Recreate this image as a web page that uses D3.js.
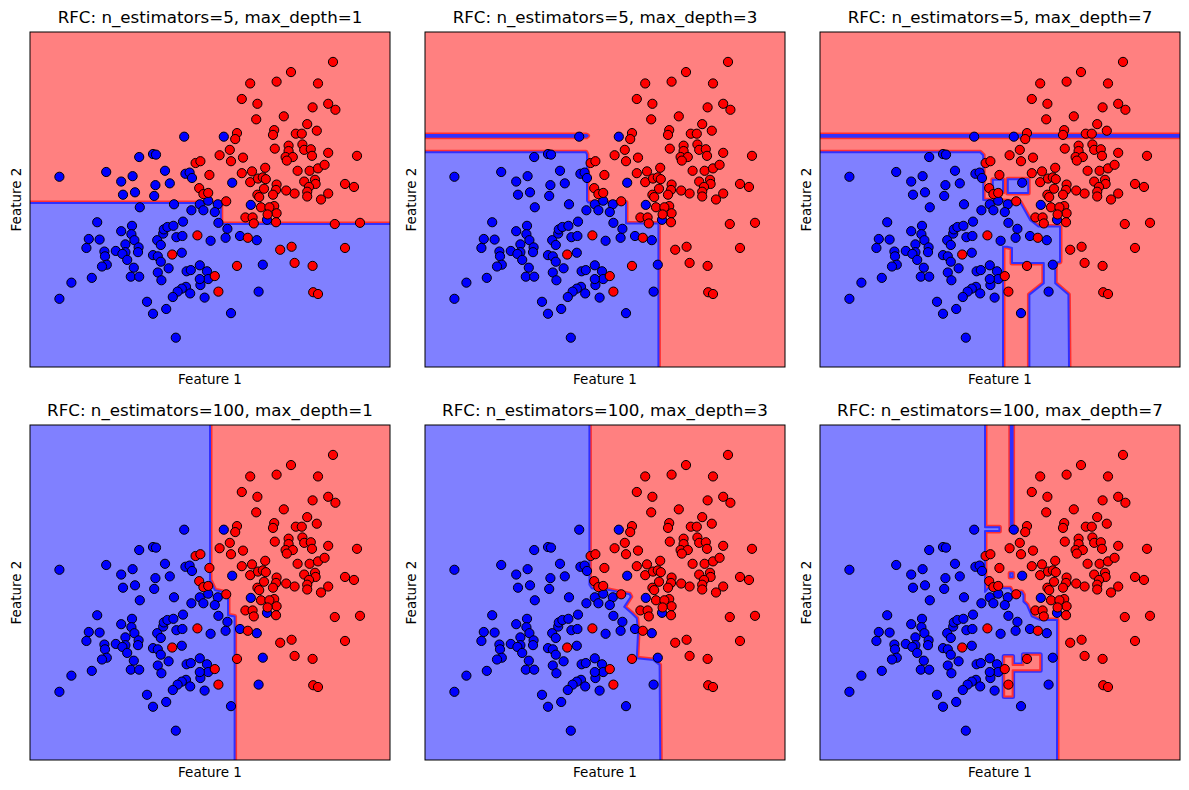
<!DOCTYPE html>
<html>
<head>
<meta charset="utf-8">
<script src="https://cdn.jsdelivr.net/npm/d3@7"></script>
<style>
  html, body { margin: 0; padding: 0; background: #fff; }
  svg text { font-family: "DejaVu Sans", sans-serif; fill: #000; }
</style>
</head>
<body>
<div id="chart"></div>
<script>
// titles of the six panels (row by row)
const titles = [
  "RFC: n_estimators=5, max_depth=1",
  "RFC: n_estimators=5, max_depth=3",
  "RFC: n_estimators=5, max_depth=7",
  "RFC: n_estimators=100, max_depth=1",
  "RFC: n_estimators=100, max_depth=3",
  "RFC: n_estimators=100, max_depth=7"
];

// class 0 samples (Feature 1, Feature 2)
const bluePoints = [
  [-0.43,1.05],[-1.18,0.71],[-0.95,0.76],[-0.90,0.75],[-2.51,0.38],[-1.73,0.46],[-1.48,0.30],[-1.29,0.39],
  [-0.75,0.48],[-0.41,0.43],[-0.34,0.45],[-0.30,0.36],[-0.91,0.24],[-0.67,0.27],[-1.45,0.08],[-1.25,0.12],
  [-0.93,0.06],[-1.17,-0.13],[-0.60,-0.08],[-0.31,-0.18],[-0.17,-0.08],[-0.03,-0.02],[-0.11,-0.18],[0.13,-0.08],
  [0.08,-0.21],[0.14,-0.39],[-0.45,-0.37],[0.23,1.05],[0.37,0.28],[0.68,-0.09],[0.95,-0.34],[0.29,-0.49],
  [0.26,-0.64],[0.01,-0.69],[0.50,-0.61],[0.78,-0.68],[0.88,-1.09],[-0.05,-1.20],[-0.03,-1.33],[-0.16,-1.43],
  [-0.17,-1.33],[-0.17,-1.10],[-0.09,-1.64],[0.81,-1.54],[0.35,-1.90],
  [-1.88,-0.38],[-1.30,-0.44],[-1.48,-0.53],[-1.31,-0.58],[-1.26,-0.68],[-2.02,-0.66],[-1.84,-0.67],[-2.06,-0.81],
  [-1.41,-0.75],[-1.19,-0.80],[-1.20,-0.88],[-1.57,-0.86],[-1.41,-0.88],[-1.46,-0.91],[-1.76,-0.87],[-1.75,-0.95],
  [-1.72,-1.09],[-1.80,-1.12],[-1.38,-1.01],[-0.88,-0.68],[-0.82,-0.76],[-0.78,-0.57],[-0.77,-0.50],[-0.71,-0.46],
  [-0.61,-0.44],[-0.56,-0.63],[-0.46,-0.61],[-0.95,-0.93],[-0.87,-0.95],[-0.82,-1.04],[-0.47,-0.89],[-0.69,-1.15],
  [-0.87,-1.22],[-0.81,-1.35],[-1.27,-1.14],[-1.32,-1.29],[-1.18,-1.29],[-1.97,-1.31],[-2.31,-1.39],[-2.51,-1.66],
  [-0.39,-1.20],[-0.32,-1.18],[-0.40,-1.46],[-0.47,-1.49],[-0.54,-1.54],[-0.33,-1.57],[-0.62,-1.63],[-1.05,-1.71],
  [-0.73,-1.83],[-0.95,-1.91],[-0.57,-2.31]
];

// class 1 samples
const redPoints = [
  [-0.24,0.61],[-0.16,0.64],[-0.01,0.41],[-0.18,0.19],[-0.11,0.09],[-0.03,0.11],[0.27,-0.03],[2.05,2.30],
  [1.35,2.13],[0.67,1.94],[1.11,1.97],[1.80,1.94],[0.53,1.68],[0.79,1.60],[1.71,1.54],[1.97,1.60],
  [2.09,1.50],[1.23,1.39],[0.77,1.34],[1.62,1.26],[1.78,1.15],[0.45,1.11],[0.42,1.01],[1.07,1.16],
  [1.05,1.08],[1.43,1.10],[1.53,1.10],[0.33,0.83],[0.16,0.74],[0.35,0.64],[0.55,0.70],[1.08,0.85],
  [1.31,0.90],[1.31,0.81],[1.26,0.71],[1.38,0.71],[1.28,0.65],[1.54,0.92],[1.57,0.83],[1.68,0.84],
  [1.70,0.73],[1.97,0.78],[2.45,0.73],[0.53,0.44],[0.70,0.47],[0.92,0.53],[1.46,0.48],[1.66,0.48],
  [1.80,0.52],[1.91,0.58],[0.67,0.29],[0.80,0.35],[0.88,0.37],[0.93,0.34],[1.11,0.25],[1.57,0.30],
  [1.75,0.33],[1.76,0.26],[1.65,0.21],[0.90,0.18],[1.10,0.16],[1.27,0.15],[1.41,0.10],[1.62,0.13],
  [1.62,0.05],[2.25,0.26],[2.40,0.21],[1.97,0.10],[1.85,0.00],[0.79,0.08],[0.82,0.04],[1.05,0.08],
  [1.07,-0.11],[0.85,-0.13],[0.99,-0.13],[1.11,-0.23],[0.96,-0.25],[1.10,-0.38],[0.59,-0.30],[0.71,-0.30],
  [0.73,-0.40],[2.08,-0.41],[2.50,-0.39],[0.63,-0.64],[1.17,-0.84],[1.36,-0.79],[2.25,-0.81],[0.45,-1.11],
  [1.41,-1.06],[1.71,-1.11],[0.08,-1.28],[0.14,-1.54],[1.72,-1.55],[1.80,-1.58],[-0.21,-0.60],[-0.63,-0.92]
];

// decision regions: class + outline (red is the background)
const regions_5_1 = [
  { cls: "b", pts: [[-4,-0.06],[0.18,-0.06],[0.18,-0.41],[4,-0.41],[4,-4],[-4,-4]] }
];
const regions_5_3 = [
  { cls: "b", pts: [[-4,1.08],[-0.31,1.08],[-0.29,1.065],[-0.31,1.05],[-4,1.05]] },
  { cls: "b", pts: [[-4,0.79],[-0.32,0.79],[-0.30,0.75],[-0.30,-0.02],[-0.28,-0.05],[0.35,-0.05],
                    [0.35,-0.40],[0.89,-0.40],[0.89,-4],[-4,-4]] }
];
const regions_5_7 = [
  { cls: "b", pts: [[-4,1.08],[4,1.08],[4,1.05],[-4,1.05]] },
  { cls: "b", pts: [[-4,0.79],[-0.33,0.79],[-0.28,0.74],[-0.28,-0.01],[0.33,-0.04],[0.36,-0.09],
                    [0.50,-0.34],[0.64,-0.45],[1.00,-0.45],[1.00,-1.04],[0.92,-1.06],[0.92,-1.40],
                    [1.14,-1.59],[1.16,-4],[0.49,-4],[0.49,-1.59],[0.73,-1.40],[0.73,-1.06],
                    [0.20,-1.06],[0.20,-0.81],[0.12,-0.79],[0.05,-0.79],[0.05,-4],[-4,-4]] },
  { cls: "b", pts: [[-0.12,0.33],[0.05,0.33],[0.05,0.13],[-0.12,0.13]] },
  { cls: "b", pts: [[0.13,0.34],[0.47,0.34],[0.47,0.11],[0.13,0.11]] }
];
const regions_100_1 = [
  { cls: "b", pts: [[-4,4],[0,4],[0,0.21],[0.08,0.04],[0.22,0.01],[0.30,-0.03],[0.30,-0.38],
                    [0.41,-0.40],[0.41,-4],[-4,-4]] }
];
const regions_100_3 = [
  { cls: "b", pts: [[-4,4],[-0.26,4],[-0.26,0.13],[-0.22,0.07],[0.08,0.04],[0.41,-0.03],[0.43,-0.07],
                    [0.32,-0.24],[0.45,-0.35],[0.53,-0.43],[0.55,-0.68],[0.53,-1.10],[0.81,-1.13],
                    [0.91,-1.21],[0.93,-4],[-4,-4]] }
];
const regions_100_7 = [
  { cls: "b", pts: [[-4,4],[-0.25,4],[-0.25,1.09],[-0.01,1.09],[-0.01,1.03],[-0.25,1.03],[-0.25,0.01],
                    [-0.20,0.07],[0.17,0.07],[0.20,0.01],[0.36,0.01],[0.39,-0.04],[0.39,-0.15],
                    [0.45,-0.21],[0.53,-0.40],[0.67,-0.46],[0.95,-0.46],[0.95,-4],[-4,-4]] },
  { cls: "b", pts: [[0.18,4],[0.21,4],[0.21,1.04],[0.18,1.04]] },
  { cls: "b", pts: [[0.17,0.32],[0.21,0.32],[0.21,0.26],[0.17,0.26]] },
  { cls: "r", pts: [[0.07,-1.07],[0.21,-1.07],[0.21,-1.21],[0.39,-1.21],[0.39,-1.04],[0.67,-1.04],
                    [0.67,-1.30],[0.21,-1.30],[0.21,-1.74],[0.07,-1.74]] }
];
const regions = [regions_5_1, regions_5_3, regions_5_7, regions_100_1, regions_100_3, regions_100_7];

// layout
const W = 1189, H = 790;
const pw = 360, ph = 335;
const lefts = [30, 425, 820];
const tops = [32, 425];

const fills = { b: "#8080ff", r: "#ff8080" };
const edges = { b: "#3030ff", r: "#ff3030" };
const other = { b: "r", r: "b" };

const svg = d3.select("#chart").append("svg")
  .attr("width", W)
  .attr("height", H);

const x = d3.scaleLinear().domain([-3, 3]).range([0, pw]);
const y = d3.scaleLinear().domain([-2.8, 2.8]).range([ph, 0]);
const line = d3.line().x(d => x(d[0])).y(d => y(d[1]));

titles.forEach((title, i) => {
  const col = i % 3, row = Math.floor(i / 3);
  const g = svg.append("g")
    .attr("transform", `translate(${lefts[col]},${tops[row]})`);

  g.append("clipPath").attr("id", "clip" + i)
    .append("rect").attr("width", pw).attr("height", ph);

  const plot = g.append("g").attr("clip-path", `url(#clip${i})`);

  // background = class 1 region
  plot.append("rect")
    .attr("width", pw)
    .attr("height", ph)
    .attr("fill", fills.r);

  // regions: outer edge in the neighbour colour, then fill + own edge
  regions[i].forEach(r => {
    const d = line(r.pts) + "Z";
    plot.append("path")
      .attr("d", d)
      .attr("fill", "none")
      .attr("stroke", edges[other[r.cls]])
      .attr("stroke-width", 5)
      .attr("stroke-linejoin", "round");
    plot.append("path")
      .attr("d", d)
      .attr("fill", fills[r.cls])
      .attr("stroke", edges[r.cls])
      .attr("stroke-width", 2)
      .attr("stroke-linejoin", "round");
  });

  // samples
  plot.selectAll(".dot-b")
    .data(bluePoints)
    .enter().append("circle")
    .attr("class", "dot-b")
    .attr("cx", d => x(d[0]))
    .attr("cy", d => y(d[1]))
    .attr("r", 4.6)
    .attr("fill", "#0000ff")
    .attr("stroke", "#000")
    .attr("stroke-width", 1);

  plot.selectAll(".dot-r")
    .data(redPoints)
    .enter().append("circle")
    .attr("class", "dot-r")
    .attr("cx", d => x(d[0]))
    .attr("cy", d => y(d[1]))
    .attr("r", 4.6)
    .attr("fill", "#ff0000")
    .attr("stroke", "#000")
    .attr("stroke-width", 1);

  // frame
  g.append("rect")
    .attr("width", pw)
    .attr("height", ph)
    .attr("fill", "none")
    .attr("stroke", "#000")
    .attr("stroke-width", 1);

  // title + axis labels
  g.append("text")
    .attr("x", pw / 2)
    .attr("y", -9)
    .attr("text-anchor", "middle")
    .style("font-size", "16.7px")
    .text(title);

  g.append("text")
    .attr("x", pw / 2)
    .attr("y", ph + 17)
    .attr("text-anchor", "middle")
    .style("font-size", "13.5px")
    .text("Feature 1");

  g.append("text")
    .attr("transform", `translate(-9,${ph / 2}) rotate(-90)`)
    .attr("text-anchor", "middle")
    .style("font-size", "13.5px")
    .text("Feature 2");
});
</script>
</body>
</html>
